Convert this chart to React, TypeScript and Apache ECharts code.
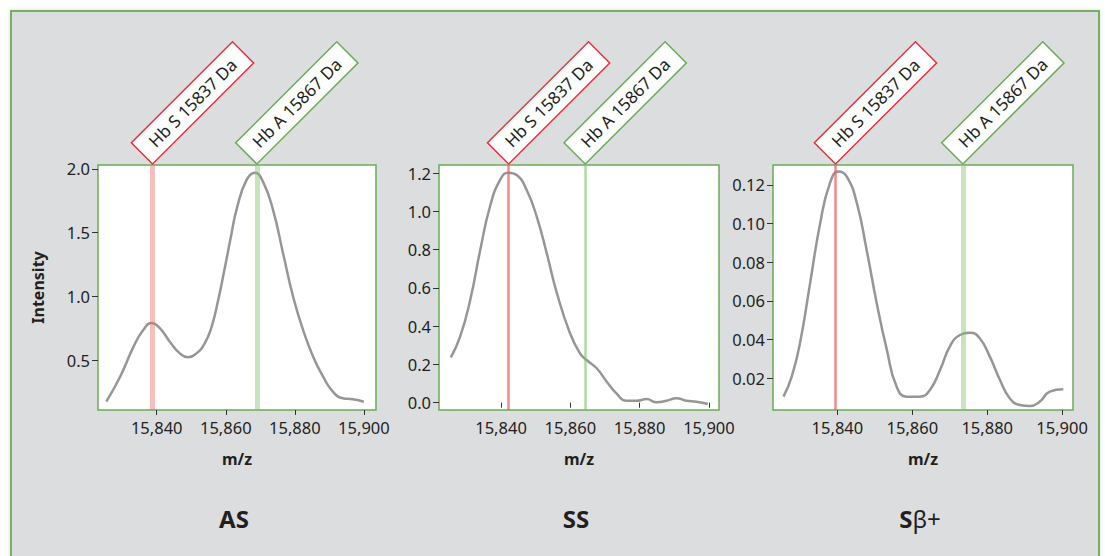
import React, { useEffect, useRef } from "react";
import * as echarts from "echarts";

// ---------- data ----------
const AS_MZ = [15825.4, 15829.4, 15833.3, 15836.1, 15838.5, 15840.9, 15843.8, 15846.7, 15849.1, 15851.5, 15853.9, 15855.9, 15857.8, 15859.7, 15861.5, 15863.3, 15866.0, 15868.4, 15870.8, 15873.7, 15876.6, 15879.5, 15882.4, 15885.3, 15888.2, 15891.0, 15893.9, 15896.8, 15900.0];
const AS_INT = [0.173, 0.369, 0.605, 0.735, 0.79, 0.75, 0.644, 0.552, 0.521, 0.552, 0.631, 0.761, 0.97, 1.22, 1.47, 1.7, 1.911, 1.969, 1.898, 1.676, 1.336, 0.996, 0.735, 0.526, 0.369, 0.252, 0.2, 0.192, 0.173];

const SS_MZ = [15825.5, 15828.2, 15831.1, 15834.0, 15836.8, 15839.7, 15842.1, 15844.5, 15847.4, 15850.3, 15853.2, 15856.0, 15859.9, 15862.8, 15864.7, 15867.6, 15870.5, 15873.3, 15876.2, 15879.1, 15882.0, 15884.9, 15887.8, 15890.6, 15893.5, 15896.4, 15899.7];
const SS_INT = [0.237, 0.345, 0.536, 0.798, 1.024, 1.163, 1.202, 1.19, 1.111, 0.972, 0.78, 0.58, 0.363, 0.258, 0.223, 0.18, 0.11, 0.049, 0.01, 0.01, 0.019, 0.002, 0.01, 0.023, 0.01, 0.005, -0.007];

const SB_MZ = [15825.6, 15827.8, 15830.0, 15832.7, 15835.4, 15838.0, 15840.3, 15842.5, 15845.2, 15847.8, 15850.5, 15853.2, 15855.8, 15858.5, 15862.0, 15864.7, 15867.4, 15870.0, 15872.7, 15875.4, 15878.0, 15880.7, 15883.4, 15886.0, 15888.7, 15891.4, 15894.0, 15896.7, 15900.3];
const SB_INT = [0.0105, 0.0209, 0.0381, 0.0691, 0.1002, 0.1209, 0.1269, 0.1243, 0.1105, 0.0864, 0.0588, 0.0347, 0.0157, 0.0105, 0.0105, 0.014, 0.0243, 0.0364, 0.0424, 0.0436, 0.0407, 0.0312, 0.0191, 0.0097, 0.0062, 0.0057, 0.0079, 0.0131, 0.0143];

const X_TICKS = [15840, 15860, 15880, 15900];
const AS_Y_TICKS = [0.5, 1.0, 1.5, 2.0];
const SS_Y_TICKS = [0.0, 0.2, 0.4, 0.6, 0.8, 1.0, 1.2];
const SB_Y_TICKS = [0.02, 0.04, 0.06, 0.08, 0.1, 0.12];

const X_RANGES = [[15823, 15903.5], [15822.1, 15902.9], [15822.8, 15902.9]];
const Y_RANGES = [[0.108, 2.03], [-0.038, 1.242], [0.0036, 0.1303]];

// marker line positions (m/z) [Hb S, Hb A] per panel
const HBS_POS = [15838.8, 15842.2, 15839.5];
const HBA_POS = [15869.0, 15864.3, 15873.5];
const HBS_LABEL = "Hb S 15837 Da";
const HBA_LABEL = "Hb A 15867 Da";
const PANEL_NAMES = ["AS", "SS", "Sβ+"];

const FONT = "'Noto Sans', 'Open Sans', sans-serif";
const TXT = "#231f20";
const GREEN = "#6aac55";
const RED = "#e8313b";

export default function App() {
  const ref = useRef<HTMLDivElement>(null);
  useEffect(() => {
    if (!ref.current) return;
    const chart = echarts.init(ref.current, null, { renderer: "svg" });
    const grids = [
      { left: 98, top: 165, width: 278, height: 245 },
      { left: 439, top: 165, width: 280, height: 245 },
      { left: 773, top: 165, width: 300, height: 245 },
    ];
    const yTicks = [AS_Y_TICKS, SS_Y_TICKS, SB_Y_TICKS];
    const yDec = [1, 1, 2];
    const datas = [
      AS_MZ.map((m, i) => [m, AS_INT[i]]),
      SS_MZ.map((m, i) => [m, SS_INT[i]]),
      SB_MZ.map((m, i) => [m, SB_INT[i]]),
    ];
    const redW = [5, 2.5, 2.5];
    const greenW = [5, 2.5, 5];
    const redC = ["rgba(240,110,110,0.45)", "rgba(240,90,90,0.7)", "rgba(240,90,90,0.7)"];
    const greenC = ["rgba(130,195,110,0.45)", "rgba(120,190,100,0.6)", "rgba(130,195,110,0.45)"];

    const option: any = {
      animation: false,
      grid: grids.map((g) => ({
        ...g,
        show: true,
        backgroundColor: "#ffffff",
        borderColor: GREEN,
        borderWidth: 1.5,
        containLabel: false,
      })),
      xAxis: grids.map((_, i) => ({
        type: "value",
        gridIndex: i,
        min: X_RANGES[i][0],
        max: X_RANGES[i][1],
        axisLine: { show: false },
        splitLine: { show: false },
        axisTick: {
          show: true,
          length: 5,
          lineStyle: { color: "#333", width: 1 },
          customValues: X_TICKS,
        },
        axisLabel: {
          customValues: X_TICKS,
          formatter: (v: number) => Math.round(v).toLocaleString("en-US"),
          fontFamily: FONT,
          fontSize: 16.5,
          color: TXT,
          margin: 9,
        },
        name: "m/z",
        nameLocation: "middle",
        nameGap: 41,
        nameTextStyle: { fontFamily: FONT, fontSize: 16, fontWeight: "bold", color: TXT },
      })),
      yAxis: grids.map((_, i) => ({
        type: "value",
        gridIndex: i,
        min: Y_RANGES[i][0],
        max: Y_RANGES[i][1],
        axisLine: { show: false },
        splitLine: { show: false },
        axisTick: {
          show: true,
          length: 6,
          lineStyle: { color: "#333", width: 1 },
          customValues: yTicks[i],
        },
        axisLabel: {
          customValues: yTicks[i],
          formatter: (v: number) => v.toFixed(yDec[i]),
          fontFamily: FONT,
          fontSize: 16.5,
          color: TXT,
          margin: 8,
        },
        name: i === 0 ? "Intensity" : "",
        nameLocation: "middle",
        nameRotate: 90,
        nameGap: 52,
        nameTextStyle: { fontFamily: FONT, fontSize: 16, fontWeight: "bold", color: TXT },
      })),
      series: grids.map((_, i) => ({
        type: "line",
        xAxisIndex: i,
        yAxisIndex: i,
        data: datas[i],
        smooth: 0.5,
        showSymbol: false,
        symbol: "none",
        lineStyle: { color: "rgba(115,115,115,0.75)", width: 2.5 },
        markLine: {
          silent: true,
          symbol: "none",
          label: { show: false },
          data: [
            { xAxis: HBS_POS[i], lineStyle: { color: redC[i], width: redW[i], type: "solid" } },
            { xAxis: HBA_POS[i], lineStyle: { color: greenC[i], width: greenW[i], type: "solid" } },
          ],
        },
      })),
    };
    chart.setOption(option);

    const graphics: any[] = [
      {
        type: "rect",
        z: -10,
        shape: { x: 11, y: 11, width: 1088, height: 600 },
        style: { fill: "#dcdddf", stroke: "#76b065", lineWidth: 2, shadowBlur: 4, shadowColor: "rgba(0,0,0,0.15)" },
      },
    ];
    const boxW = 143;
    const boxH = 30;
    const mkLabel = (px: number, py: number, text: string, color: string) => ({
      type: "group",
      x: px,
      y: py,
      rotation: Math.PI / 4,
      z: 50,
      children: [
        {
          type: "rect",
          shape: { x: 0, y: -boxH, width: boxW, height: boxH },
          style: { fill: "#ffffff", stroke: color, lineWidth: 1.5 },
        },
        {
          type: "text",
          x: boxW / 2,
          y: -boxH / 2,
          style: {
            text,
            align: "center",
            verticalAlign: "middle",
            fontFamily: FONT,
            fontSize: 17,
            fill: TXT,
          },
        },
      ],
    });
    for (let i = 0; i < 3; i++) {
      const top = chart.convertToPixel({ yAxisIndex: i } as any, Y_RANGES[i][1]) as number;
      const xs = chart.convertToPixel({ xAxisIndex: i } as any, HBS_POS[i]) as number;
      const xa = chart.convertToPixel({ xAxisIndex: i } as any, HBA_POS[i]) as number;
      graphics.push(mkLabel(xs, top - 1, HBS_LABEL, RED));
      graphics.push(mkLabel(xa, top - 1, HBA_LABEL, GREEN));
      const g = grids[i];
      const cx = g.left + g.width / 2 - 3;
      graphics.push({
        type: "text",
        x: cx,
        y: 518,
        z: 50,
        style: {
          text: i === 2 ? "{b|S}{n|β+}" : `{b|${PANEL_NAMES[i]}}`,
          align: "center",
          verticalAlign: "middle",
          rich: {
            b: { fontFamily: FONT, fontSize: 24, fontWeight: "bold", fill: TXT, color: TXT },
            n: { fontFamily: FONT, fontSize: 24, fontWeight: "normal", fill: TXT, color: TXT },
          },
        },
      });
    }
    chart.setOption({ graphic: graphics });

    return () => chart.dispose();
  }, []);
  return (
    <div
      ref={ref}
      style={{ position: "fixed", left: 0, top: 0, width: 1105, height: 556, background: "#ffffff" }}
    />
  );
}
